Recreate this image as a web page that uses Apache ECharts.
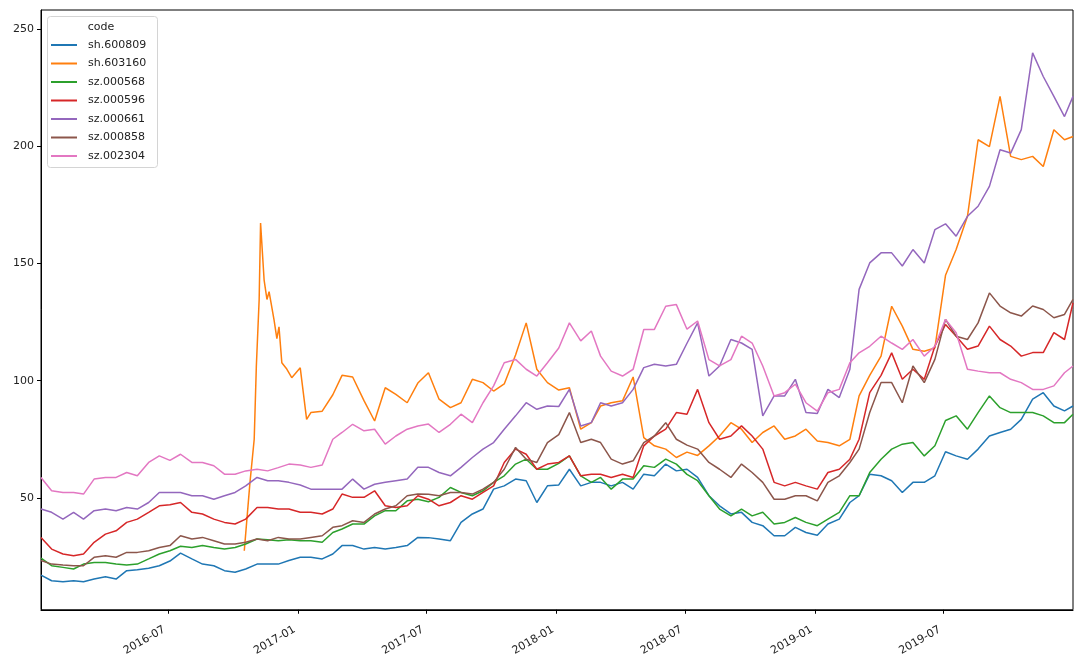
<!DOCTYPE html>
<html>
<head>
<meta charset="utf-8">
<script src="https://cdn.jsdelivr.net/npm/echarts@6/dist/echarts.min.js"></script>
<style>
  html, body { margin: 0; padding: 0; background: #fff; }
  #main { width: 1080px; height: 658px; }
</style>
</head>
<body>
<div id="main"></div>
<script>
// sampling dates (twice a month)
var dates = [
    '2016-01-04', '2016-01-19', '2016-02-04', '2016-02-19', '2016-03-04', '2016-03-19', '2016-04-04', '2016-04-19', '2016-05-04', '2016-05-19', '2016-06-04', '2016-06-19',
    '2016-07-04', '2016-07-19', '2016-08-04', '2016-08-19', '2016-09-04', '2016-09-19', '2016-10-04', '2016-10-19', '2016-11-04', '2016-11-19', '2016-12-04', '2016-12-19',
    '2017-01-04', '2017-01-19', '2017-02-04', '2017-02-19', '2017-03-04', '2017-03-19', '2017-04-04', '2017-04-19', '2017-05-04', '2017-05-19', '2017-06-04', '2017-06-19',
    '2017-07-04', '2017-07-19', '2017-08-04', '2017-08-19', '2017-09-04', '2017-09-19', '2017-10-04', '2017-10-19', '2017-11-04', '2017-11-19', '2017-12-04', '2017-12-19',
    '2018-01-04', '2018-01-19', '2018-02-04', '2018-02-19', '2018-03-04', '2018-03-19', '2018-04-04', '2018-04-19', '2018-05-04', '2018-05-19', '2018-06-04', '2018-06-19',
    '2018-07-04', '2018-07-19', '2018-08-04', '2018-08-19', '2018-09-04', '2018-09-19', '2018-10-04', '2018-10-19', '2018-11-04', '2018-11-19', '2018-12-04', '2018-12-19',
    '2019-01-04', '2019-01-19', '2019-02-04', '2019-02-19', '2019-03-04', '2019-03-19', '2019-04-04', '2019-04-19', '2019-05-04', '2019-05-19', '2019-06-04', '2019-06-19',
    '2019-07-04', '2019-07-19', '2019-08-04', '2019-08-19', '2019-09-04', '2019-09-19', '2019-10-04', '2019-10-19', '2019-11-04', '2019-11-19', '2019-12-04', '2019-12-19',
    '2019-12-31'
];

var codes = ['sh.600809', 'sh.603160', 'sz.000568', 'sz.000596', 'sz.000661', 'sz.000858', 'sz.002304'];
var colors = ['#1f77b4', '#ff7f0e', '#2ca02c', '#d62728', '#9467bd', '#8c564b', '#e377c2'];

var sh600809 = [
    17, 14.6, 14.2, 14.6, 14.2, 15.3, 16.3, 15.3, 18.9, 19.3, 19.9, 21, 23, 26.4, 23.9, 21.7, 21, 18.9, 18.2, 19.6, 21.7, 21.7, 21.7, 23.2,
    24.6, 24.6, 23.9, 26, 29.6, 29.6, 28.1, 28.8, 28.1, 28.8, 29.6, 33.1, 33, 32.4, 31.7, 39.5, 43.1, 45.2, 53.7, 55.1, 58, 57.3, 48, 55.1,
    55.5, 62.2, 55.1, 56.6, 56.6, 55.1, 56.6, 53.7, 60.1, 59.4, 64.4, 61.5, 62.2, 58.7, 50.9, 46.6, 43.1, 43.8, 39.5, 38.1, 33.8, 33.8, 37.4, 35.2,
    34, 38.8, 40.9, 48, 50.9, 60.1, 59.4, 57.3, 52.3, 56.6, 56.6, 59.4, 69.7, 67.9, 66.5, 70.8, 76.4, 77.9, 79.3, 83.5, 92.1, 94.9, 89.2, 87.1,
    89.2
];

// sh.603160 lists in Oct 2016, so it has its own dates
var sh603160Dates = [
    '2016-10-17', '2016-10-25', '2016-10-31', '2016-11-03', '2016-11-07', '2016-11-09', '2016-11-14', '2016-11-18',
    '2016-11-21', '2016-11-28', '2016-12-02', '2016-12-05', '2016-12-09', '2016-12-16', '2016-12-23', '2017-01-04', '2017-01-13'
].concat(dates.slice(25));
var sh603160 = [
    27.4, 56.5, 75, 106, 134.7, 167.3, 143, 134.7, 138, 126, 118, 123, 107.7, 105, 101.3, 105.5, 83.5,
    86.4, 87, 94, 102.3, 101.6, 91.5, 82.8, 97, 94.2, 90.6, 99,
    103.4, 92.1, 88.5, 90.6, 100.6, 99.2, 95.6, 98.6, 111, 124.7, 104.9, 99.2,
    96, 97, 79.3, 82.1, 89.2, 90.6, 91.4, 101.6, 75.7, 72.2, 70.8, 67.2,
    69.5, 68.1, 72.2, 76.4, 82.1, 79.3, 73.6, 77.9, 80.7, 75, 76.4, 79.3,
    74.3, 73.6, 72.2, 75, 93.5, 102.3, 110.5, 131.8, 123.3, 113.4, 112.6, 114,
    145, 156, 170.2, 202.9, 200, 221.4, 195.8, 194.4, 195.8, 191.5, 207.2, 202.9,
    204.3
];

var sz000568 = [
    24.2, 21, 20.3, 19.6, 21.7, 22.4, 22.4, 21.7, 21.3, 21.7, 23.9, 26, 27.4, 29.3, 28.8, 29.6, 28.8, 28.1, 28.8, 30.3, 32.4, 32.1, 31.7, 32.1,
    31.7, 31.7, 31, 35.2, 36.7, 38.8, 38.8, 42.3, 44.5, 44.5, 48.7, 49.4, 48.3, 50.2, 54.4, 52.3, 50.9, 53, 56.6, 59.4, 64.4, 66.5, 62.2, 62.2,
    64.7, 67.9, 59.4, 56.6, 58.7, 53.7, 58, 58, 63.7, 63, 66.5, 64.4, 60, 57.3, 50.9, 45.2, 42.3, 45.2, 42.3, 43.8, 38.8, 39.5, 41.6, 39.5,
    38.1, 40.9, 43.8, 50.9, 50.9, 60.8, 66.5, 70.8, 72.9, 73.6, 67.9, 72.2, 83, 85, 79.3, 86.4, 93.5, 88.5, 86.4, 86.4, 86.4, 85, 82.1, 82.1,
    85.7
];

var sz000596 = [
    33.1, 28.1, 26, 25.3, 26, 31, 34.5, 35.9, 39.5, 40.9, 43.8, 46.6, 47, 48, 43.8, 43.1, 40.9, 39.5, 38.8, 40.9, 45.9, 45.9, 45.2, 45.2,
    43.8, 43.8, 43.1, 45.2, 51.6, 50.2, 50.2, 53, 46.6, 45.9, 46.6, 50.9, 49.4, 46.6, 48, 50.9, 49.4, 52.3, 55.1, 65.1, 70.8, 68.6, 62.2, 64.4,
    65.1, 67.9, 59.4, 60.1, 60.1, 58.7, 60.1, 58.7, 72.2, 76.4, 79.3, 86.4, 85.7, 96.3, 82.1, 75, 76.4, 80.7, 76.4, 70.8, 56.6, 55.1, 56.6, 55.1,
    53.7, 60.8, 62.2, 66.5, 75, 94.9, 102.3, 111.9, 100.6, 104.9, 100.6, 114.7, 124, 119, 113.4, 114.8, 123.3, 117.6, 114.8, 110.5, 112, 112, 120.5, 117.6,
    133.3
];

var sz000661 = [
    45.2, 43.8, 40.9, 43.8, 40.9, 44.5, 45.2, 44.5, 45.9, 45.2, 48, 52.3, 52.3, 52.3, 50.9, 50.9, 49.4, 50.9, 52.3, 55.1, 58.7, 57.3, 57.3, 56.6,
    55.5, 53.7, 53.7, 53.7, 53.7, 58, 53.7, 55.8, 56.6, 57.3, 58, 63, 63, 60.8, 59.4, 63, 67.2, 70.8, 73.6, 79.3, 85, 90.6, 87.8, 89.2,
    89, 96.3, 80.7, 82.1, 90.6, 89.2, 90.6, 96.3, 105.6, 107, 106.3, 107, 116, 124.7, 102, 106.3, 117.6, 116.1, 113.4, 85, 93.5, 93.5, 100.6, 86.4,
    86, 96.3, 92.8, 104.9, 139, 150.3, 154.6, 154.6, 149, 156, 150.3, 164.5, 167, 161.7, 170.2, 174.5, 183, 198.6, 197.2, 207.2, 240, 229.9, 221.4, 212.8,
    221.4
];

var sz000858 = [
    23.2, 21.7, 21.3, 21, 21, 24.6, 25.3, 24.6, 26.7, 26.7, 27.4, 28.8, 29.6, 33.8, 32.4, 33.1, 31.7, 30.3, 30.3, 31, 32.4, 31.7, 33.1, 32.4,
    32.4, 33.1, 33.8, 37.4, 38.1, 40.2, 39.5, 43.1, 45.2, 46.6, 50.9, 51.6, 51.5, 50.9, 52.3, 52.3, 51.6, 53.7, 56.6, 62.2, 71.5, 66.5, 65.1, 73.6,
    77, 86.4, 73.6, 75, 73.6, 66.5, 64.4, 65.8, 73.6, 76.4, 82.1, 75, 72.5, 70.8, 65.1, 62.2, 58.7, 64.4, 60.8, 56.6, 49.4, 49.4, 50.9, 50.9,
    48.7, 56.6, 59.4, 65.1, 70.8, 86.4, 99.2, 99.2, 90.6, 106.3, 99.2, 109.1, 126.2, 119, 117.6, 124.7, 137.5, 131.9, 129, 127.6, 131.9, 130.4, 126.9, 128.3,
    134.7
];

var sz002304 = [
    58.7, 53, 52.3, 52.3, 51.6, 58, 58.7, 58.7, 60.8, 59.4, 65.1, 67.9, 66, 68.6, 65.1, 65.1, 63.7, 60.1, 60.1, 61.5, 62.2, 61.5, 62.9, 64.4,
    64, 63, 64, 75, 77.9, 81.4, 78.6, 79.3, 72.9, 76.4, 79.3, 80.7, 81.5, 77.9, 81.4, 85.7, 82.1, 90.6, 97.8, 107.7, 109.1, 104.9, 102, 107.7,
    114, 124.7, 117, 121.2, 110.5, 104.1, 102, 104.9, 121.9, 121.9, 131.8, 132.5, 122, 125.5, 109, 106.3, 109, 119, 116.1, 106.3, 93.5, 94.9, 98.5, 90.6,
    87, 94.9, 96.3, 107.7, 111.9, 114.7, 119, 116.1, 113.4, 117.6, 110.5, 114.7, 126.2, 120.5, 104.9, 104.1, 103.4, 103.4, 100.6, 99.2, 96.3, 96.3, 97.8, 103.4,
    106.3
];

var xTickLabels = ['2016-07', '2017-01', '2017-07', '2018-01', '2018-07', '2019-01', '2019-07'];
var yTicks = [50, 100, 150, 200, 250];

function toTime(s) {
    return Date.parse(s + 'T00:00:00Z');
}

function pairs(ds, vs) {
    return ds.map(function (d, i) { return [toTime(d), vs[i]]; });
}

var seriesData = [
    pairs(dates, sh600809),
    pairs(sh603160Dates, sh603160),
    pairs(dates, sz000568),
    pairs(dates, sz000596),
    pairs(dates, sz000661),
    pairs(dates, sz000858),
    pairs(dates, sz002304)
];

var font = 'DejaVu Sans';
var xTickValues = xTickLabels.map(function (s) { return toTime(s + '-01'); });

var myChart = echarts.init(document.getElementById('main'));
var option = {
    animation: false,
    color: colors,
    grid: {
        left: 41, top: 10, width: 1032, height: 601,
        show: true, borderColor: '#000', borderWidth: 1, backgroundColor: 'transparent'
    },
    graphic: [
        {
            type: 'rect', z: 1,
            shape: {x: 47.5, y: 16.5, width: 110, height: 151, r: 3},
            style: {fill: 'rgba(255,255,255,0.8)', stroke: '#d4d4d4', lineWidth: 1}
        },
        {
            type: 'text', z: 5, x: 101, y: 27,
            style: {text: 'code', font: '11px "DejaVu Sans"', fill: '#222', textAlign: 'center', textVerticalAlign: 'middle'}
        }
    ],
    legend: {
        orient: 'vertical',
        left: 51, top: 39,
        itemWidth: 26, itemHeight: 2,
        itemGap: 6.5,
        icon: 'rect',
        padding: [0, 0, 0, 0],
        textStyle: {fontFamily: font, fontSize: 11, color: '#222', lineHeight: 12, padding: [0, 0, 0, 6]},
        data: codes
    },
    xAxis: {
        type: 'value',
        min: toTime('2016-01-04'),
        max: toTime('2019-12-31'),
        splitLine: {show: false},
        axisLine: {lineStyle: {color: '#000', width: 1}},
        axisTick: {show: true, length: 4, lineStyle: {color: '#000'}, customValues: xTickValues},
        axisLabel: {
            customValues: xTickValues,
            rotate: 30,
            margin: 17,
            padding: [0, 4, 0, 0],
            fontFamily: font,
            fontSize: 11,
            color: '#222',
            formatter: function (v) {
                return xTickLabels[xTickValues.indexOf(v)] || '';
            }
        }
    },
    yAxis: {
        type: 'value',
        min: 2.2,
        max: 258.3,
        splitLine: {show: false},
        axisLine: {show: true, lineStyle: {color: '#000', width: 1}},
        axisTick: {show: true, length: 4, lineStyle: {color: '#000'}, customValues: yTicks},
        axisLabel: {customValues: yTicks, margin: 7, fontFamily: font, fontSize: 11, color: '#222'}
    },
    series: codes.map(function (c, i) {
        return {
            name: c,
            type: 'line',
            showSymbol: false,
            symbol: 'none',
            lineStyle: {width: 1.5, color: colors[i]},
            itemStyle: {color: colors[i]},
            data: seriesData[i]
        };
    })
};
myChart.setOption(option);
</script>
</body>
</html>
